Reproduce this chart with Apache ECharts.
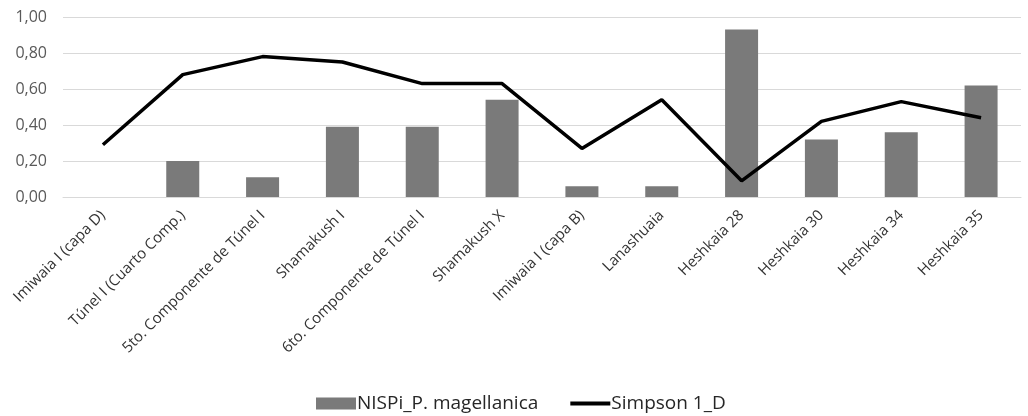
<!DOCTYPE html>
<html>
<head>
<meta charset="utf-8">
<script src="https://cdn.jsdelivr.net/npm/echarts@6/dist/echarts.min.js"></script>
<style>
  html, body { margin: 0; padding: 0; background: #fff; }
  #chart { width: 1028px; height: 416px; }
</style>
</head>
<body>
<div id="chart"></div>
<script>
// Sitios / componentes
const categories = [
  'Imiwaia I (capa D)',
  'Túnel I (Cuarto Comp.)',
  '5to. Componente de Túnel I',
  'Shamakush I',
  '6to. Componente de Túnel I',
  'Shamakush X',
  'Imiwaia I (capa B)',
  'Lanashuaia',
  'Heshkaia 28',
  'Heshkaia 30',
  'Heshkaia 34',
  'Heshkaia 35'
];
// NISPi de P. magellanica (barras)
const nispi = [0, 0.20, 0.11, 0.39, 0.39, 0.54, 0.06, 0.06, 0.93, 0.32, 0.36, 0.62];
// Índice de Simpson 1-D (línea)
const simpson = [0.29, 0.68, 0.78, 0.75, 0.63, 0.63, 0.27, 0.54, 0.09, 0.42, 0.53, 0.44];
const seriesNames = ['NISPi_P. magellanica', 'Simpson 1_D'];

const font = '"Open Sans", Lato, sans-serif';
const chart = echarts.init(document.getElementById('chart'), null, { renderer: 'canvas' });

chart.setOption({
  animation: false,
  textStyle: { fontFamily: font },
  grid: { left: 63, right: 7, top: 17, bottom: 219, containLabel: false },
  legend: {
    top: 394,
    left: 316,
    padding: 0,
    itemGap: 30,
    itemWidth: 40,
    itemHeight: 12,
    textStyle: { fontFamily: font, fontSize: 19, color: '#262626', padding: [0, 0, 0, -4] },
    data: [
      { name: seriesNames[0], icon: 'rect' },
      // line icon only, no marker dot
      { name: seriesNames[1], itemStyle: { opacity: 0 }, lineStyle: { width: 4 } }
    ]
  },
  xAxis: {
    type: 'category',
    data: categories,
    axisLine: { lineStyle: { color: '#d9d9d9', width: 1 } },
    axisTick: { show: false },
    axisLabel: {
      interval: 0,
      rotate: 45,
      margin: 16,
      padding: [24, 0, 0, 0],
      fontFamily: font,
      fontSize: 15,
      color: '#333333'
    }
  },
  yAxis: {
    type: 'value',
    min: 0,
    max: 1,
    interval: 0.2,
    axisLine: { show: false },
    axisTick: { show: false },
    splitLine: { lineStyle: { color: '#d9d9d9', width: 1 } },
    axisLabel: {
      margin: 16,
      fontFamily: font,
      fontSize: 16,
      color: '#595959',
      formatter: v => v.toFixed(2).replace('.', ',')
    }
  },
  series: [
    {
      name: seriesNames[0],
      type: 'bar',
      data: nispi,
      barWidth: 33,
      itemStyle: { color: '#7a7a7a' }
    },
    {
      name: seriesNames[1],
      type: 'line',
      data: simpson,
      symbol: 'none',
      lineStyle: { color: '#000000', width: 3.5 },
      itemStyle: { color: '#000000' }
    }
  ]
});
</script>
</body>
</html>
